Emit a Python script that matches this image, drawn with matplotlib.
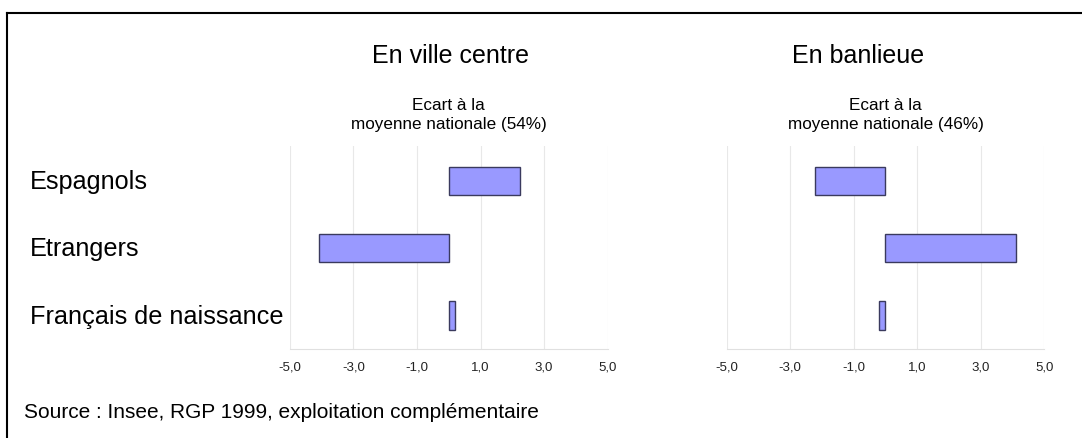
import matplotlib.pyplot as plt
from matplotlib.lines import Line2D

plt.rcParams["font.family"] = ["Liberation Sans", "DejaVu Sans"]

categories = ["Espagnols", "Etrangers", "Français de naissance"]
ville_centre = [2.23, -4.09, 0.2]
banlieue = [-2.22, 4.12, -0.19]
ticks = [-5, -3, -1, 1, 3, 5]
tick_labels = ["-5,0", "-3,0", "-1,0", "1,0", "3,0", "5,0"]

# title, subtitle, values, axes left, title x (px)
panels = [
    ("En ville centre", "Ecart à la\nmoyenne nationale (54%)", ville_centre, 0.268, 451),
    ("En banlieue", "Ecart à la\nmoyenne nationale (46%)", banlieue, 0.6716, 858),
]

W, H = 1082, 439
fig = plt.figure(figsize=(W / 100, H / 100), dpi=100)

for title, subtitle, values, left, tx in panels:
    ax = fig.add_axes([left, 0.2027, 0.2935, 0.4624])
    ax.barh(range(len(categories)), values, height=0.42,
            color="#9999ff", edgecolor="#3a3a5e", linewidth=1, zorder=3)
    ax.set_xlim(-5, 5)
    ax.set_ylim(2.5, -0.52)
    ax.set_xticks(ticks)
    ax.set_xticklabels(tick_labels, fontsize=9.5, color="#222222")
    ax.set_yticks([])
    ax.tick_params(axis="x", length=0, pad=8)
    ax.grid(axis="x", color="#e8e8e8", linewidth=0.8, zorder=0)
    for side in ["top", "right", "left"]:
        ax.spines[side].set_visible(False)
    ax.spines["bottom"].set_color("#e0e0e0")
    cx = left + 0.2935 / 2
    fig.text(tx / W, 1 - 56 / H, title, ha="center", va="center", fontsize=18)
    fig.text(cx, 1 - 115 / H, subtitle, ha="center", va="center", fontsize=12.3,
             linespacing=1.35)

for i, name in enumerate(categories):
    fig.text(30 / W, 1 - (182 + i * 67.3) / H, name, ha="left", va="center",
             fontsize=18.2)

fig.text(24 / W, 1 - 413 / H, "Source : Insee, RGP 1999, exploitation complémentaire",
         ha="left", va="center", fontsize=15)

# frame: top and left lines only
fig.add_artist(Line2D([7 / W, 1], [1 - 13.5 / H, 1 - 13.5 / H],
                      transform=fig.transFigure, color="black", linewidth=1.5))
fig.add_artist(Line2D([7 / W, 7 / W], [0, 1 - 13.5 / H],
                      transform=fig.transFigure, color="black", linewidth=1.5))

fig.savefig("out.png", dpi=100)
